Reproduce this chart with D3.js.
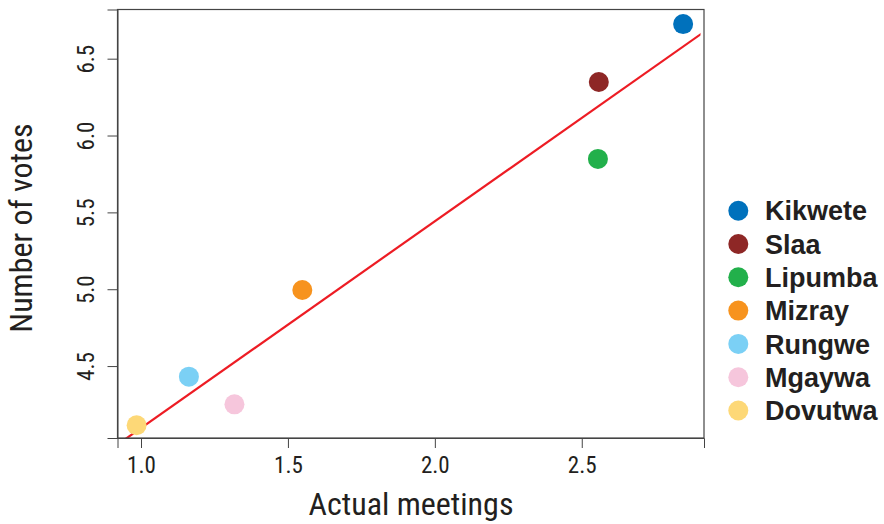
<!DOCTYPE html>
<html><head><meta charset="utf-8">
<script src="https://cdn.jsdelivr.net/npm/d3@7"></script>
<style>body{margin:0;background:#fff}svg{display:block}text{font-family:"Liberation Sans Narrow","Roboto Condensed","DejaVu Sans Condensed",sans-serif;}</style>
</head><body><svg id="c" width="884" height="524"></svg>
<script>
const names = ["Kikwete","Slaa","Lipumba","Mizray","Rungwe","Mgaywa","Dovutwa"];
const meetings = [2.845, 2.558, 2.555, 1.549, 1.163, 1.318, 0.985];
const votes = [6.725, 6.348, 5.848, 4.995, 4.431, 4.251, 4.115];
const colors = ["#0071BC","#8E2726","#22B04B","#F7931E","#7BD0F5","#F6C6DC","#FDD877"];
const xTicks = [1.0, 1.5, 2.0, 2.5];
const yTicks = [4.5, 5.0, 5.5, 6.0, 6.5];

const svg = d3.select("#c");
const L = 117.5, R = 704, T = 9.5, B = 438;
const x = d3.scaleLinear().domain([0.920, 2.916]).range([L, R]);
const y = d3.scaleLinear().domain([4.032, 6.82]).range([B, T]);

// regression line (OLS)
const n = meetings.length;
const mx = d3.mean(meetings), my = d3.mean(votes);
let sxy = 0, sxx = 0;
for (let i = 0; i < n; i++) { sxy += (meetings[i]-mx)*(votes[i]-my); sxx += (meetings[i]-mx)**2; }
const slope = sxy/sxx, icpt = my - slope*mx;

svg.append("clipPath").attr("id","pc").append("rect").attr("x",L).attr("y",T).attr("width",R-L-3.5).attr("height",B-T);
const xd = x.domain();
svg.append("line").attr("clip-path","url(#pc)")
  .attr("x1", x(xd[0])).attr("y1", y(icpt+slope*xd[0]))
  .attr("x2", x(xd[1])).attr("y2", y(icpt+slope*xd[1]))
  .attr("stroke","#ED1C24").attr("stroke-width",2.2);

svg.selectAll("circle.pt").data(names).join("circle").attr("class","pt")
  .attr("cx",(d,i)=>x(meetings[i])).attr("cy",(d,i)=>y(votes[i])).attr("r",10)
  .attr("fill",(d,i)=>colors[i]);

svg.append("rect").attr("x",L).attr("y",T).attr("width",R-L).attr("height",B-T)
  .attr("fill","none").attr("stroke","#444").attr("stroke-width",1.2);

const xa = svg.append("g").attr("transform",`translate(0,${B})`)
  .call(d3.axisBottom(x).tickValues(xTicks).tickFormat(d3.format(".1f")).tickSize(10).tickPadding(9));
xa.select(".domain").attr("stroke","#444");
xa.selectAll(".tick line").attr("stroke","#444");
xa.selectAll("text").attr("font-size",23).attr("fill","#231F20");

const ya = svg.append("g").attr("transform",`translate(${L},0)`)
  .call(d3.axisLeft(y).tickValues(yTicks).tickFormat(d3.format(".1f")).tickSize(10));
ya.select(".domain").attr("stroke","#444");
ya.selectAll(".tick line").attr("stroke","#444");
ya.selectAll("text").attr("font-size",23).attr("fill","#231F20")
  .attr("text-anchor","middle").attr("dy",0).attr("x",0)
  .attr("transform","translate(-31,0) rotate(-90)").attr("dominant-baseline","central");

svg.append("text").attr("x",411).attr("y",515).attr("text-anchor","middle")
  .attr("font-size",32).attr("fill","#231F20").text("Actual meetings");
svg.append("text").attr("transform","translate(32,228) rotate(-90)").attr("text-anchor","middle")
  .attr("font-size",32).attr("fill","#231F20").text("Number of votes");

const lg = svg.append("g");
names.forEach((nm,i)=>{
  const cy = 210.7 + i*33.3;
  lg.append("circle").attr("cx",738.3).attr("cy",cy).attr("r",10).attr("fill",colors[i]);
  lg.append("text").attr("x",765).attr("y",cy).attr("dy","0.36em").attr("font-size",27)
    .attr("font-weight","bold").attr("fill","#231F20")
    .style("font-family","'Liberation Sans',Arial,sans-serif").text(nm);
});
</script></body></html>
